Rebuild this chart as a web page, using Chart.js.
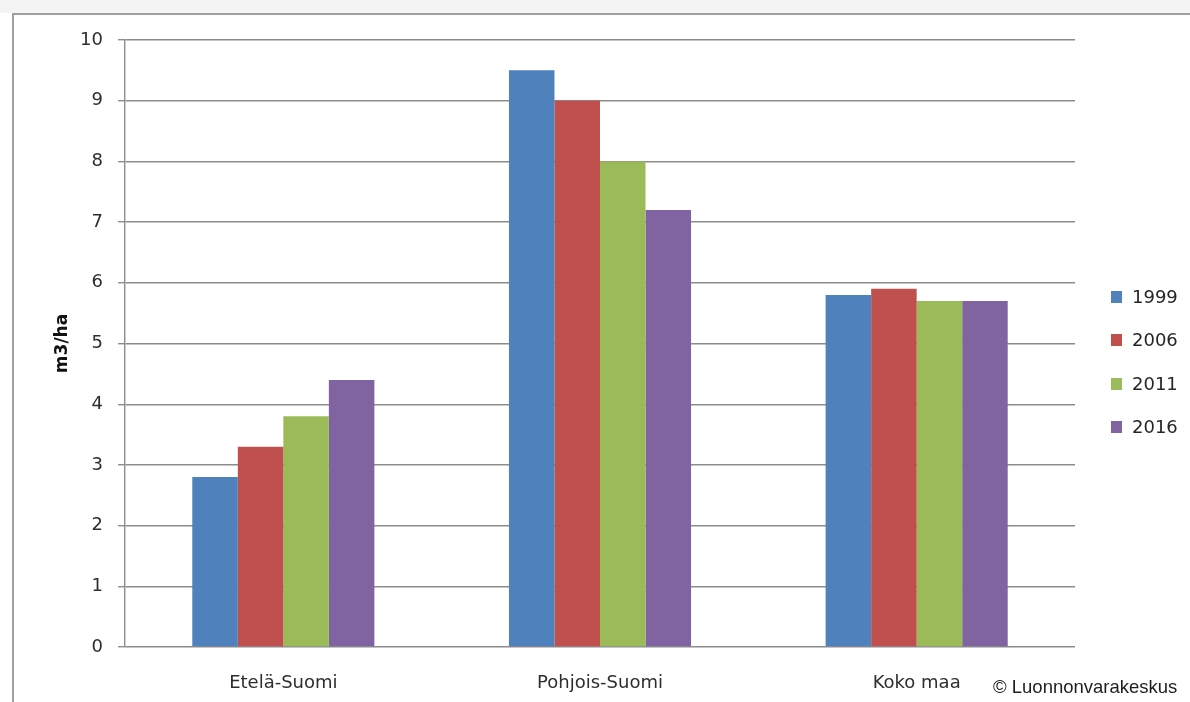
<!DOCTYPE html>
<html>
<head>
<meta charset="utf-8">
<script src="https://cdn.jsdelivr.net/npm/chart.js@4/dist/chart.umd.min.js"></script>
<style>
  html, body { margin: 0; padding: 0; background: #fff; }
  body { width: 1190px; height: 702px; position: relative; overflow: hidden; font-family: "DejaVu Sans", Verdana, sans-serif; }
  #topband { position: absolute; left: 0; top: 0; width: 1190px; height: 13px; background: #f4f4f4; }
  #frame { position: absolute; left: 12px; top: 13px; width: 1200px; height: 720px; border-top: 2px solid #a0a0a0; border-left: 2px solid #a0a0a0; }
  #wrap { position: absolute; left: 0; top: 0; width: 1190px; height: 702px; }
  #legend { position: absolute; left: 1111px; top: 286px; }
  .item { display: flex; align-items: center; font-size: 18px; color: #262626; line-height: 22px; height: 22px; margin-bottom: 21.3px; }
  .box { width: 11px; height: 12px; margin-right: 10px; }
  #credit { position: absolute; left: 993px; top: 676px; font-family: "Liberation Sans", Arial, sans-serif; font-size: 18.5px; color: #1e1e1e; }
</style>
</head>
<body>
<div id="topband"></div>
<div id="frame"></div>
<div id="wrap"><canvas id="chart" width="1190" height="702"></canvas></div>
<div id="legend"></div>
<div id="credit">© Luonnonvarakeskus</div>
<script>
const regions = ['Etelä-Suomi', 'Pohjois-Suomi', 'Koko maa'];
const years = ['1999', '2006', '2011', '2016'];
const values1999 = [2.8, 9.5, 5.8];
const values2006 = [3.3, 9.0, 5.9];
const values2011 = [3.8, 8.0, 5.7];
const values2016 = [4.4, 7.2, 5.7];
const colors = ['#4f81bd', '#c0504d', '#9bbb59', '#8064a2'];
const yTicks = [0, 1, 2, 3, 4, 5, 6, 7, 8, 9, 10];

const seriesValues = [values1999, values2006, values2011, values2016];

const gridColor = '#8c8c8c';
const textColor = '#2e2e2e';
const font = { family: '"DejaVu Sans", Verdana, sans-serif', size: 18 };

const ctx = document.getElementById('chart').getContext('2d');
const chart = new Chart(ctx, {
  type: 'bar',
  data: {
    labels: regions,
    datasets: years.map((year, i) => ({
      label: year,
      data: seriesValues[i],
      backgroundColor: colors[i],
      borderWidth: 0,
      categoryPercentage: 0.575,
      barPercentage: 1.0
    }))
  },
  options: {
    responsive: false,
    animation: false,
    devicePixelRatio: 1,
    layout: { padding: { left: 0, top: 40, right: 115, bottom: 0 } },
    plugins: {
      legend: { display: false },
      tooltip: { enabled: false }
    },
    scales: {
      x: {
        grid: { display: false, drawTicks: false },
        border: { display: false },
        ticks: { color: textColor, font: font, padding: 26, maxRotation: 0 },
        afterFit: scale => { scale.height = 55; }
      },
      y: {
        min: 0,
        max: 10,
        afterBuildTicks: scale => { scale.ticks = yTicks.map(v => ({ value: v })); },
        grid: { color: gridColor, lineWidth: 1.4, drawTicks: true, tickLength: 7 },
        border: { display: true, color: gridColor, width: 1.4 },
        ticks: { color: textColor, font: font, padding: 15 },
        title: {
          display: true,
          text: 'm3/ha',
          color: '#111',
          font: { family: font.family, size: 17, weight: 'bold' },
          padding: { top: 52, bottom: 0 }
        },
        afterFit: scale => { scale.width = 125; }
      }
    }
  }
});

const legendEl = document.getElementById('legend');
years.forEach((year, i) => {
  const item = document.createElement('div');
  item.className = 'item';
  item.innerHTML = `<span class="box" style="background:${colors[i]}"></span><span>${year}</span>`;
  legendEl.appendChild(item);
});
</script>
</body>
</html>
